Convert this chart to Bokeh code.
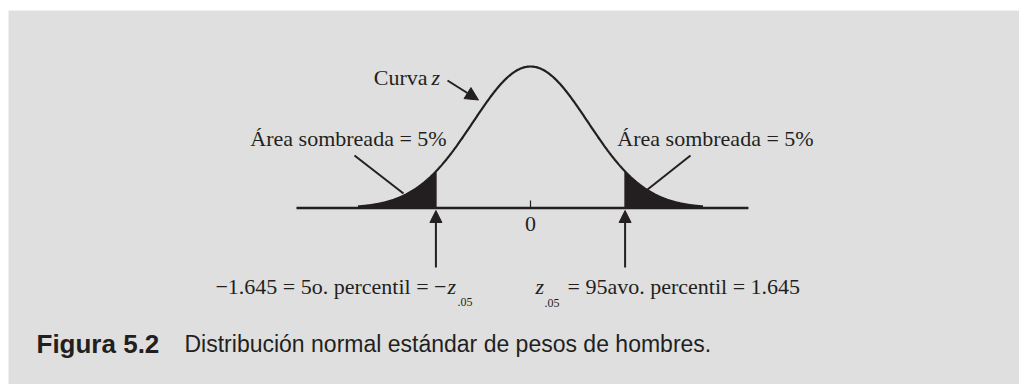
import numpy as np
from bokeh.plotting import figure
from bokeh.models import Range1d, Arrow, NormalHead
from bokeh.core.properties import value
from bokeh.embed import file_html
from bokeh.resources import INLINE

# ---------------- data ----------------
z_cutoffs = [-1.645, 1.645]          # 5th and 95th percentiles
curve_limits = [-3.0, 3.0]           # extent of the drawn z curve
axis_limits = [-4.07, 3.79]          # extent of the horizontal axis line
tick_values = [0.0]
tick_labels = ["0"]
tail_labels = ["Área sombreada = 5%", "Área sombreada = 5%"]
curve_label = ["Curva", "z"]
left_label = ["\u22121.645 = 5o. percentil = \u2212", "z", ".05"]
right_label = ["z", ".05", "= 95avo. percentil = 1.645"]
caption = ["Figura 5.2", "Distribución normal estándar de pesos de hombres."]

# ---------------- styling ----------------
BG = "#dfdfdf"
INK = "#231f20"
SERIF = "Liberation Serif"
SANS = "Liberation Sans"
W, H = 1019, 384
LEFT, TOP = 8, 10
PX = 57.5      # pixels per z unit
PY = 354.7     # pixels per density unit
CX, CY = 530.0, 207.5   # image position of (0, 0)

def dx(px):
    return (px - CX) / PX

def dy(py):
    return (CY - py) / PY

def pdf(z):
    z = np.asarray(z, dtype=float)
    return np.exp(-z ** 2 / 2.0) / np.sqrt(2.0 * np.pi)

p = figure(width=W, height=H,
           x_range=Range1d(dx(LEFT), dx(W)),
           y_range=Range1d(dy(H), dy(TOP)),
           output_backend="svg", toolbar_location=None,
           min_border_left=LEFT, min_border_top=TOP,
           min_border_right=0, min_border_bottom=0)
p.axis.visible = False
p.grid.visible = False
p.outline_line_color = None
p.background_fill_color = BG
p.border_fill_color = "white"

# shaded tails
zl = np.linspace(curve_limits[0], z_cutoffs[0], 120)
zr = np.linspace(z_cutoffs[1], curve_limits[1], 120)
p.varea(x=zl, y1=np.zeros_like(zl), y2=pdf(zl), fill_color=INK)
p.varea(x=zr, y1=np.zeros_like(zr), y2=pdf(zr), fill_color=INK)
p.segment(x0=z_cutoffs, y0=[0, 0], x1=z_cutoffs, y1=list(pdf(z_cutoffs)),
          line_color=INK, line_width=1.5)

# curve
zc = np.linspace(curve_limits[0], curve_limits[1], 400)
p.line(zc, pdf(zc), line_color=INK, line_width=2.2)

# axis line and tick
p.segment(x0=[axis_limits[0]], y0=[0], x1=[axis_limits[1]], y1=[0],
          line_color=INK, line_width=2.6)
p.segment(x0=tick_values, y0=[0] * len(tick_values), x1=tick_values,
          y1=[dy(200)] * len(tick_values), line_color=INK, line_width=1.2)
p.text(x=tick_values, y=[dy(223)] * len(tick_values), text=tick_labels,
       text_font=value(SERIF), text_font_size="22px", text_color=INK,
       text_align="center", text_baseline="middle")

# vertical arrows under the cutoffs
for c in z_cutoffs:
    p.add_layout(Arrow(end=NormalHead(size=12, fill_color=INK, line_color=INK),
                       x_start=c, y_start=dy(267), x_end=c, y_end=dy(210),
                       line_color=INK, line_width=2))

# "Curva z" label and arrow
p.text(x=[dx(427)], y=[dy(77)], text=[curve_label[0]], text_font=value(SERIF),
       text_font_size="22px", text_color=INK, text_align="right", text_baseline="middle")
p.text(x=[dx(431)], y=[dy(77)], text=[curve_label[1]], text_font=value(SERIF),
       text_font_style="italic", text_font_size="22px", text_color=INK,
       text_align="left", text_baseline="middle")
p.add_layout(Arrow(end=NormalHead(size=13, fill_color=INK, line_color=INK),
                   x_start=dx(447), y_start=dy(80), x_end=dx(478), y_end=dy(99.5),
                   line_color=INK, line_width=2))

# tail labels and pointer lines
p.text(x=[dx(348), dx(715)], y=[dy(138), dy(138)], text=tail_labels,
       text_font=value(SERIF), text_font_size="22px", text_color=INK,
       text_align="center", text_baseline="middle")
p.segment(x0=[dx(354), dx(690)], y0=[dy(155), dy(155)],
          x1=[dx(403), dx(642)], y1=[dy(193), dy(193)],
          line_color=INK, line_width=2)

# bottom-left label
p.text(x=[dx(446)], y=[dy(286)], text=[left_label[0]], text_font=value(SERIF),
       text_font_size="22px", text_color=INK, text_align="right", text_baseline="middle")
p.text(x=[dx(447)], y=[dy(286)], text=[left_label[1]], text_font=value(SERIF),
       text_font_style="italic", text_font_size="22px", text_color=INK,
       text_align="left", text_baseline="middle")
p.text(x=[dx(457)], y=[dy(301)], text=[left_label[2]], text_font=value(SERIF),
       text_font_size="12px", text_color=INK, text_align="left", text_baseline="middle")

# bottom-right label
p.text(x=[dx(535)], y=[dy(286)], text=[right_label[0]], text_font=value(SERIF),
       text_font_style="italic", text_font_size="22px", text_color=INK,
       text_align="left", text_baseline="middle")
p.text(x=[dx(544)], y=[dy(302)], text=[right_label[1]], text_font=value(SERIF),
       text_font_size="12px", text_color=INK, text_align="left", text_baseline="middle")
p.text(x=[dx(567)], y=[dy(286)], text=[right_label[2]], text_font=value(SERIF),
       text_font_size="22px", text_color=INK, text_align="left", text_baseline="middle")

# caption
p.text(x=[dx(36)], y=[dy(343)], text=[caption[0]], text_font=value(SANS),
       text_font_style="bold", text_font_size="26px", text_color=INK,
       text_align="left", text_baseline="middle")
p.text(x=[dx(184)], y=[dy(343)], text=[caption[1]], text_font=value(SANS),
       text_font_size="23px", text_color=INK, text_align="left", text_baseline="middle")

open("out.html", "w").write(file_html(p, INLINE))
